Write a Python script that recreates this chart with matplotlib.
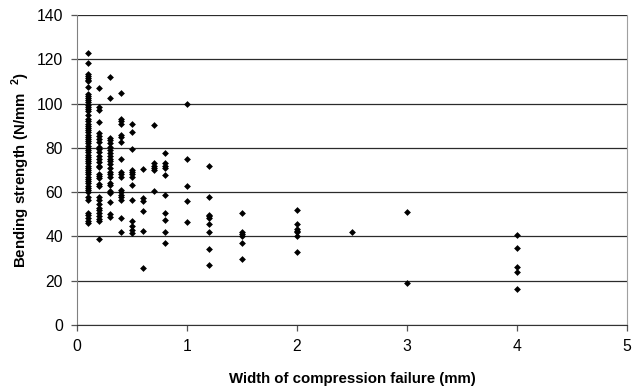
import matplotlib
matplotlib.use("Agg")
import matplotlib.pyplot as plt

# --------------------------- DATA --------------------------- #
# width of compression failure (mm) -> bending strength values (N/mm2)
x01 = [122.7, 118.5, 113.5, 112.5, 111.5, 110.7, 110, 107.5, 104.5, 103.5,
       102.5, 101.5, 100.5, 99.5, 98.5, 97.5, 96.5, 95, 93, 92, 91, 90, 89,
       88, 87, 86, 85, 84, 83, 82, 81, 80, 79, 78, 77, 76, 75, 74, 73, 72,
       71, 70, 69, 68, 67, 66, 65, 64, 63, 62, 61, 60, 58, 56.5, 50.5, 49.5,
       48.2, 47, 46.2]
x02 = [107, 98.3, 97.2, 91.5, 86.8, 85.3, 84.2, 82.5, 80.5, 79.5, 78, 76.5,
       75, 73.8, 72, 71.3, 68.2, 67.3, 66.3, 63.6, 62.8, 57.6, 56.5, 54.5,
       53, 51.8, 50.5, 49.2, 48, 46.8, 38.8]
x03 = [112, 102.5, 84.5, 83.7, 82, 80.5, 79, 77.5, 76.5, 75, 74, 72.5, 71,
       69.2, 68.2, 67, 64.3, 63.2, 60.3, 59.5, 55.5, 50, 48.7]
x04 = [105, 93, 92, 91, 86, 84.8, 82.6, 74.8, 69, 68, 67, 61, 60, 58.5,
       57.6, 56.6, 48.2, 41.8]
x05 = [91, 87.2, 79.7, 70.2, 69, 68, 67, 63.3, 56.5, 46.8, 44.6, 43, 41.5]
x06 = [70.3, 57.3, 56.2, 51.5, 42.4, 25.7]
x07 = [90.2, 73, 72, 71, 70, 60.6]
x08 = [77.9, 73, 72, 71, 67.8, 58.7, 50.5, 47.4, 42.2, 36.9]
x10 = [99.8, 74.9, 62.9, 56.2, 46.3]
x12 = [71.9, 57.9, 49.7, 49, 48.2, 45.7, 42.1, 34.5, 27]
x15 = [50.8, 41.8, 41.1, 40, 36.9, 29.8]
x20 = [52, 45.4, 43.3, 42.5, 42.2, 40, 32.8]
x25 = [41.9]
x30 = [51, 19.1]
x40 = [40.7, 34.9, 26.4, 23.8, 16.3]

WIDTHS = [0.1, 0.2, 0.3, 0.4, 0.5, 0.6, 0.7, 0.8, 1.0, 1.2, 1.5, 2.0, 2.5, 3.0, 4.0]
STRENGTHS = [x01, x02, x03, x04, x05, x06, x07, x08, x10, x12, x15, x20, x25, x30, x40]

X_TICKS = [0, 1, 2, 3, 4, 5]
Y_TICKS = [0, 20, 40, 60, 80, 100, 120, 140]

# --------------------------- PLOT --------------------------- #
plt.rcParams["font.family"] = ["Liberation Sans", "DejaVu Sans"]
plt.rcParams["mathtext.fontset"] = "custom"
plt.rcParams["mathtext.rm"] = "Liberation Sans"
plt.rcParams["mathtext.bf"] = "Liberation Sans:bold"

fig = plt.figure(figsize=(6.38, 3.88), dpi=100)
ax = fig.add_axes([0.1207, 0.1624, 0.8621, 0.7989])

xs, ys = [], []
for w, vals in zip(WIDTHS, STRENGTHS):
    xs.extend([w] * len(vals))
    ys.extend(vals)
ax.scatter(xs, ys, marker="D", s=12, color="black", linewidths=0, zorder=3)

ax.set_xlim(0, 5)
ax.set_ylim(0, 140)
ax.set_xticks(X_TICKS)
ax.set_yticks(Y_TICKS)
ax.yaxis.grid(True, color="#2b2b2b", linewidth=0.9)
ax.set_axisbelow(True)

ax.spines["top"].set_visible(False)
ax.spines["left"].set_color("#808080")
ax.spines["right"].set_color("#a0a0a0")
ax.spines["bottom"].set_color("#333333")
ax.tick_params(axis="both", direction="out", length=4, width=0.9,
               colors="#555555", labelcolor="black", labelsize=11.3, pad=6)

ax.set_xlabel("Width of compression failure (mm)", fontsize=10.8,
              fontweight="bold", labelpad=13)
ax.set_ylabel(r"Bending strength (N/mm  $^{\mathbf{2}}$)", fontsize=10.8,
              fontweight="bold", labelpad=3)

fig.savefig("out.png", dpi=100)
